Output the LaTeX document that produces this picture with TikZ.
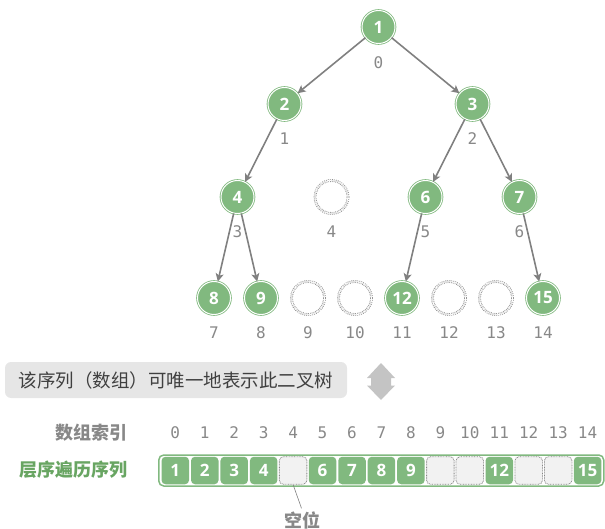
\documentclass[tikz,border=0pt]{standalone}
\usepackage{fontspec}
\setmainfont{Open Sans}
\newfontfamily\cjk{Noto Sans CJK SC}
\newfontfamily\monof{DejaVu Sans Mono}
\usetikzlibrary{arrows.meta}
\definecolor{G}{RGB}{129,185,127}
\definecolor{DG}{RGB}{104,165,98}
\definecolor{EC}{RGB}{128,128,128}
\definecolor{LG}{RGB}{136,136,136}
\definecolor{DOT}{RGB}{135,135,135}
\definecolor{EF}{RGB}{242,242,242}
\definecolor{BOX}{RGB}{230,230,230}
\definecolor{TXT}{RGB}{64,64,64}
\definecolor{ARR}{RGB}{196,196,196}
\begin{document}
\begin{tikzpicture}[x=1pt,y=-1pt,
  tn/.style={circle, minimum size=33pt, inner sep=0pt, fill=G, draw=G, double=white,
    double distance=1pt, line width=0.8pt, text=white, font=\fontsize{17}{17}\selectfont\bfseries},
  en/.style={circle, minimum size=33pt, inner sep=0pt, draw=DOT, line width=0.8pt,
    double=white, double distance=1.2pt, dash pattern=on 0.8pt off 1.1pt},
  lb/.style={text=LG, font=\monof\fontsize{16}{16}\selectfont, inner sep=0pt},
  edge/.style={draw=EC, line width=1.6pt, -{Stealth[length=8pt,width=8pt,inset=2pt]}},
  cell/.style={rounded corners=4pt, minimum size=27.5pt, inner sep=0pt, fill=G, text=white,
    font=\fontsize{17}{17}\selectfont\bfseries},
  ecell/.style={rounded corners=4pt, minimum size=27.5pt, inner sep=0pt, fill=EF, draw=DOT,
    line width=0.8pt, dash pattern=on 0.8pt off 0.8pt},
  cjklab/.style={font=\cjk\bfseries\fontsize{18}{18}\selectfont, inner sep=0pt}
]
\useasboundingbox (0,0) rectangle (605,529);
% tree nodes
\node[tn] (n1) at (378.5,27) {1};
\node[tn] (n2) at (284.5,104) {2};
\node[tn] (n3) at (472.5,104) {3};
\node[tn] (n4) at (237.5,197) {4};
\node[en] (n5) at (331.5,197) {};
\node[tn] (n6) at (425.5,197) {6};
\node[tn] (n7) at (519.5,197) {7};
\node[tn] (n8) at (214,298) {8};
\node[tn] (n9) at (261,298) {9};
\node[en] (n10) at (308,298) {};
\node[en] (n11) at (355,298) {};
\node[tn] (n12) at (402,298) {12};
\node[en] (n13) at (449,298) {};
\node[en] (n14) at (496,298) {};
\node[tn] (n15) at (543,298) {15};
% index labels of tree
\node[lb] (t0) at (378.5,63) {0};
\node[lb] (t1) at (284.5,139) {1};
\node[lb] (t2) at (472.5,139) {2};
\node[lb] (t3) at (237.5,232) {3};
\node[lb] (t4) at (331.5,232) {4};
\node[lb] (t5) at (425.5,232) {5};
\node[lb] (t6) at (519.5,232) {6};
\node[lb] (t7) at (214,333) {7};
\node[lb] (t8) at (261,333) {8};
\node[lb] (t9) at (308,333) {9};
\node[lb] (t10) at (355,333) {10};
\node[lb] (t11) at (402,333) {11};
\node[lb] (t12) at (449,333) {12};
\node[lb] (t13) at (496,333) {13};
\node[lb] (t14) at (543,333) {14};
% edges
\draw[edge] (n1) -- (n2);
\draw[edge] (n1) -- (n3);
\draw[edge] (n2) -- (n4);
\draw[edge] (n3) -- (n6);
\draw[edge] (n3) -- (n7);
\draw[edge] (n4) -- (n8);
\draw[edge] (n4) -- (n9);
\draw[edge] (n6) -- (n12);
\draw[edge] (n7) -- (n15);
% note box
\node[fill=BOX, rounded corners=6pt, minimum width=342pt, minimum height=36pt, inner sep=0pt,
  text=TXT, font=\cjk\fontsize{18.5}{18.5}\selectfont] (note) at (176,380) {该序列（数组）可唯一地表示此二叉树};
% double arrow
\fill[ARR] (381,363) -- (395,378) -- (391,378) -- (391,385.5) -- (395,385.5) -- (381,400)
  -- (367,385.5) -- (371,385.5) -- (371,378) -- (367,378) -- cycle;
% array
\node[cjklab, text=LG, anchor=east] (lab1) at (128,433) {数组索引};
\node[cjklab, text=DG, anchor=east] (lab2) at (128,470) {层序遍历序列};
\foreach \i in {0,...,14} \node[lb] (ix\i) at (175.3+29.45*\i,433) {\i};
\draw[G, line width=1.5pt, rounded corners=5pt] (158.75,455) rectangle (603.75,486);
\foreach \i/\v in {0/1,1/2,2/3,3/4,5/6,6/7,7/8,8/9,11/12,14/15}
  \node[cell] (c\i) at (175.3+29.45*\i,470.5) {\v};
\foreach \i in {4,9,10,12,13}
  \node[ecell] (c\i) at (175.3+29.45*\i,470.5) {};
\node[cjklab, text=LG] (kw) at (302.5,520) {空位};
\draw[EC, line width=0.6pt, shorten >=3pt] (c4.south) -- (kw.north);
\end{tikzpicture}
\end{document}
